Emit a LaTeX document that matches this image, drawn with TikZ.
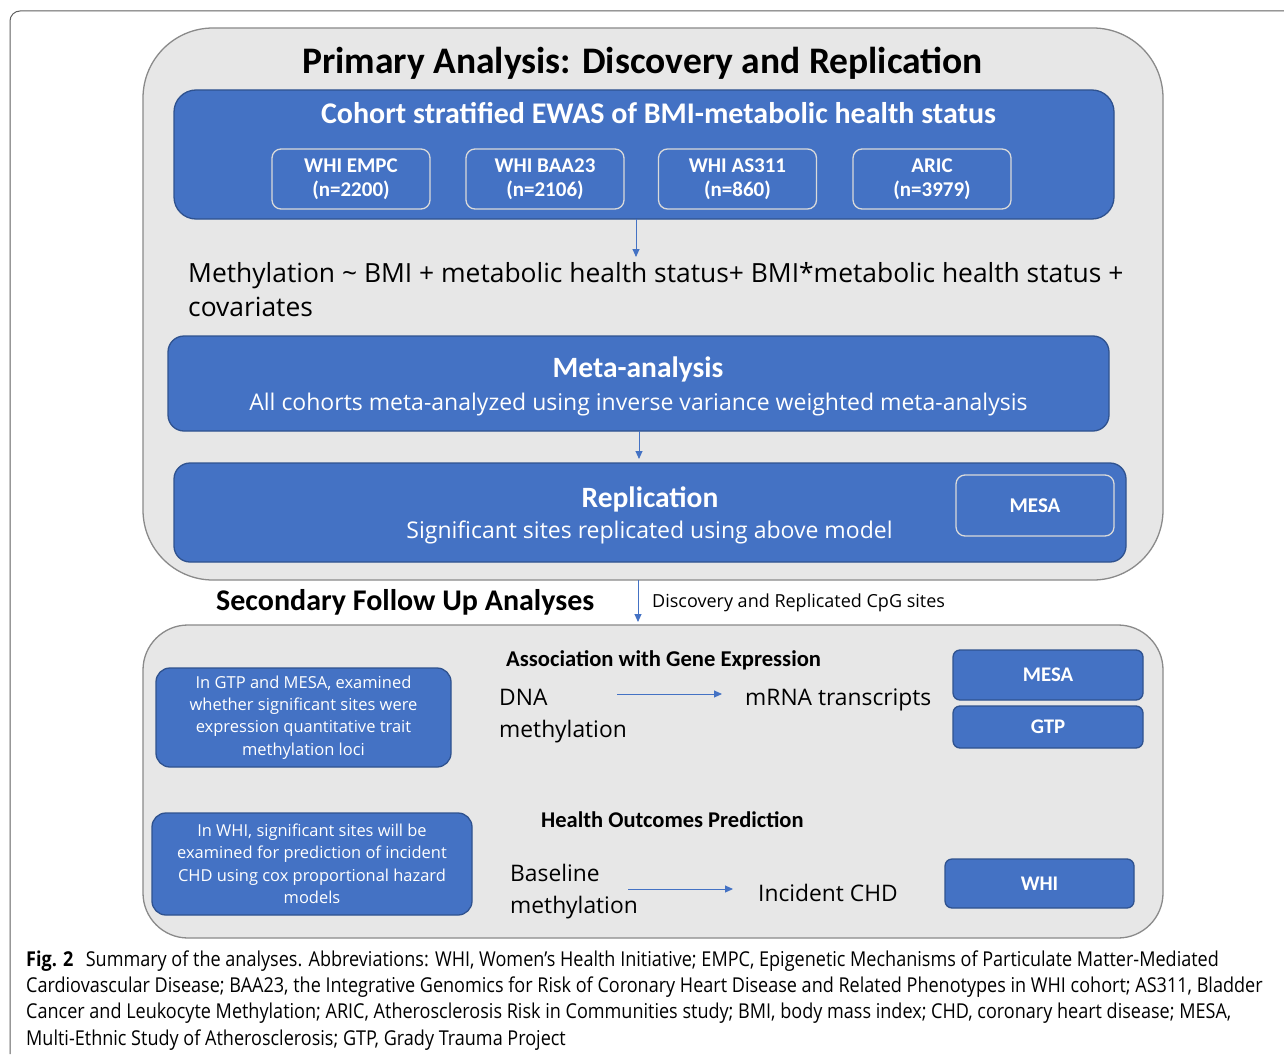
\documentclass[tikz,border=0pt]{standalone}
\usepackage{fontspec}
\setmainfont{Carlito}
\newfontfamily\regfont{Open Sans}
\newfontfamily\capfont[FakeStretch=0.88]{Open Sans}
\usetikzlibrary{arrows.meta}
\definecolor{blu}{HTML}{4472C4}
\definecolor{bluedge}{HTML}{2F528F}
\definecolor{grayfill}{HTML}{E7E7E7}
\definecolor{grayedge}{HTML}{8A8A8A}
\definecolor{outline}{HTML}{DADADA}
\definecolor{framecol}{HTML}{606060}
\begin{document}
\begin{tikzpicture}[x=1pt,y=-1pt,
  graybox/.style={draw=grayedge, fill=grayfill, line width=1.3pt, inner sep=0pt},
  bluebox/.style={draw=bluedge, fill=blu, line width=1.3pt, inner sep=0pt, text=white, align=center},
  subbox/.style={draw=outline, line width=1.3pt, rounded corners=9pt, inner sep=0pt, text=white, align=center, font=\fontsize{21}{24}\selectfont\bfseries},
  txt/.style={inner sep=0pt, anchor=base west},
  ctxt/.style={inner sep=0pt, anchor=base},
  arr/.style={draw=blu, line width=0.9pt, -{Triangle[length=8pt,width=7pt]}}
]
\useasboundingbox (0,0) rectangle (1284,1054);
\fill[white] (0,0) rectangle (1284,1054);
% outer frame
\coordinate (fr1) at (10,1054);
\coordinate (fr2) at (10,11);
\coordinate (fr3) at (1284,11);
\draw[framecol, line width=1pt, rounded corners=10pt] (fr1) -- (fr2) -- (fr3);

% primary box
\node[graybox, rounded corners=70pt, minimum width=1020pt, minimum height=552pt] (primary) at (653,304) {};
\node[ctxt, font=\fontsize{37.5}{44}\selectfont\bfseries] (ptitle) at (642.5,74) {Primary Analysis: Discovery and Replication};

\node[bluebox, rounded corners=22pt, minimum width=940pt, minimum height=129pt] (cohort) at (644,154.5) {};
\node[ctxt, text=white, font=\fontsize{30}{36}\selectfont\bfseries] (ctitle) at (658.5,124) {Cohort stratified EWAS of BMI-metabolic health status};
\node[subbox, minimum width=158pt, minimum height=60pt] (empc) at (351,179) {WHI EMPC\\(n=2200)};
\node[subbox, minimum width=158pt, minimum height=60pt] (baa) at (545,179) {WHI BAA23\\(n=2106)};
\node[subbox, minimum width=158pt, minimum height=60pt] (as) at (737.5,179) {WHI AS311\\(n=860)};
\node[subbox, minimum width=158pt, minimum height=60pt] (aric) at (932,179) {ARIC\\(n=3979)};

\coordinate (a1s) at (636,219);
\coordinate (a1e) at (636,257);
\draw[arr] (a1s) -- (a1e);

\node[txt, font=\regfont\fontsize{26.4}{32}\selectfont] (form1) at (188,282) {Methylation \textasciitilde\ BMI + metabolic health status+ BMI*metabolic health status +};
\node[txt, font=\regfont\fontsize{26.4}{32}\selectfont] (form2) at (188,316) {covariates};

\node[bluebox, rounded corners=16pt, minimum width=941pt, minimum height=95pt] (meta) at (638.5,383.5) {};
\node[ctxt, text=white, font=\fontsize{29.5}{34}\selectfont\bfseries] (mtitle) at (638,377) {Meta-analysis};
\node[ctxt, text=white, font=\regfont\fontsize{23}{28}\selectfont] (msub) at (638.5,410) {All cohorts meta-analyzed using inverse variance weighted meta-analysis};

\coordinate (a2s) at (639,431);
\coordinate (a2e) at (639,459);
\draw[arr] (a2s) -- (a2e);

\node[bluebox, rounded corners=16pt, minimum width=952pt, minimum height=99pt] (rep) at (650,512.5) {};
\node[ctxt, text=white, font=\fontsize{29.5}{34}\selectfont\bfseries] (rtitle) at (650,507) {Replication};
\node[ctxt, text=white, font=\regfont\fontsize{23}{28}\selectfont] (rsub) at (649.5,538) {Significant sites replicated using above model};
\node[subbox, minimum width=158pt, minimum height=61pt] (mesa1) at (1035,505.5) {MESA};

\coordinate (a3s) at (638,580);
\coordinate (a3e) at (638,622);
\draw[arr] (a3s) -- (a3e);
\node[txt, font=\fontsize{30}{36}\selectfont\bfseries] (sec) at (216,610) {Secondary Follow Up Analyses};
\node[txt, font=\regfont\fontsize{18}{22}\selectfont] (disc) at (652,607) {Discovery and Replicated CpG sites};

% secondary box
\node[graybox, rounded corners=45pt, minimum width=1020pt, minimum height=313pt] (secondary) at (653,781.5) {};

\node[bluebox, rounded corners=14pt, minimum width=295pt, minimum height=99pt, font=\regfont\fontsize{16.5}{22.2}\selectfont] (lb1) at (303.5,717.5) {In GTP and MESA, examined\\whether significant sites were\\expression quantitative trait\\methylation loci};
\node[txt, font=\fontsize{22.6}{27}\selectfont\bfseries] (assoc) at (506,666) {Association with Gene Expression};
\node[txt, font=\regfont\fontsize{22.8}{28}\selectfont] (dna1) at (499,705) {DNA};
\node[txt, font=\regfont\fontsize{22.8}{28}\selectfont] (dna2) at (499,737) {methylation};
\coordinate (a4s) at (617,694);
\coordinate (a4e) at (722,694);
\draw[arr] (a4s) -- (a4e);
\node[txt, font=\regfont\fontsize{22.8}{28}\selectfont] (mrna) at (745,705) {mRNA transcripts};
\node[bluebox, rounded corners=7pt, minimum width=190pt, minimum height=50pt, font=\fontsize{20.8}{24}\selectfont\bfseries] (mesa2) at (1048,675) {MESA};
\node[bluebox, rounded corners=7pt, minimum width=190pt, minimum height=42pt, font=\fontsize{20.8}{24}\selectfont\bfseries] (gtp) at (1048,727) {GTP};

\node[bluebox, rounded corners=14pt, minimum width=320pt, minimum height=102pt, font=\regfont\fontsize{16.45}{22.5}\selectfont] (lb2) at (312,864) {In WHI, significant sites will be\\examined for prediction of incident\\CHD using cox proportional hazard\\models};
\node[txt, font=\fontsize{22.5}{27}\selectfont\bfseries] (health) at (541,827) {Health Outcomes Prediction};
\node[txt, font=\regfont\fontsize{22.8}{28}\selectfont] (base1) at (510,881) {Baseline};
\node[txt, font=\regfont\fontsize{22.8}{28}\selectfont] (base2) at (510,913) {methylation};
\coordinate (a5s) at (628,889);
\coordinate (a5e) at (733,889);
\draw[arr] (a5s) -- (a5e);
\node[txt, font=\regfont\fontsize{22.8}{28}\selectfont] (chd) at (758,901) {Incident CHD};
\node[bluebox, rounded corners=7pt, minimum width=189pt, minimum height=49pt, font=\fontsize{20.8}{24}\selectfont\bfseries] (whi) at (1039.5,883.5) {WHI};

% caption
\node[txt, font=\capfont\fontsize{20.5}{26}\selectfont] (cap1) at (26,966) {\textbf{Fig. 2}\hspace{0.6em}Summary of the analyses. Abbreviations: WHI, Women’s Health Initiative; EMPC, Epigenetic Mechanisms of Particulate Matter-Mediated};
\node[txt, font=\capfont\fontsize{20.5}{26}\selectfont] (cap2) at (26,992.3) {Cardiovascular Disease; BAA23, the Integrative Genomics for Risk of Coronary Heart Disease and Related Phenotypes in WHI cohort; AS311, Bladder};
\node[txt, font=\capfont\fontsize{20.5}{26}\selectfont] (cap3) at (26,1018.6) {Cancer and Leukocyte Methylation; ARIC, Atherosclerosis Risk in Communities study; BMI, body mass index; CHD, coronary heart disease; MESA,};
\node[txt, font=\capfont\fontsize{20.5}{26}\selectfont] (cap4) at (26,1045) {Multi-Ethnic Study of Atherosclerosis; GTP, Grady Trauma Project};
\end{tikzpicture}
\end{document}
